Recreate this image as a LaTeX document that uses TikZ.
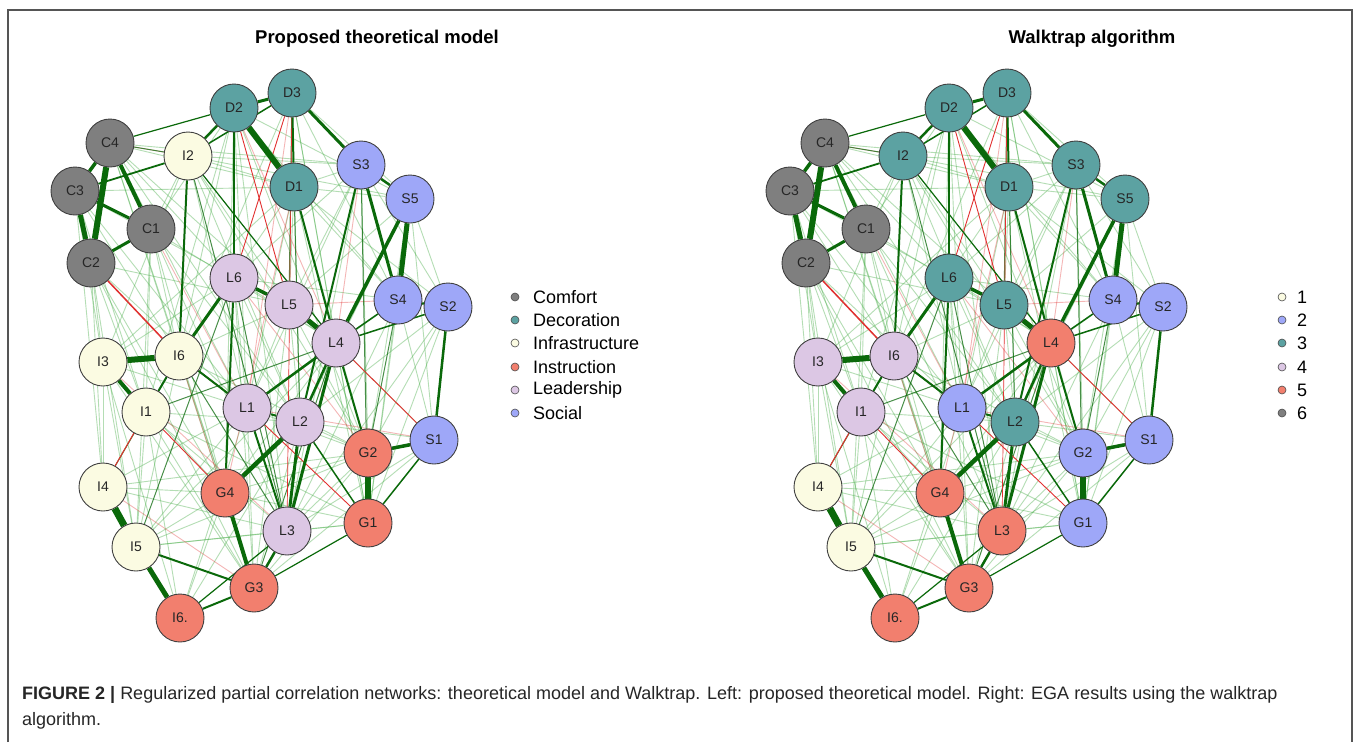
\documentclass[tikz,border=0pt]{standalone}
\usepackage{fontspec}
\setmainfont{Liberation Sans}
\definecolor{cgray}{HTML}{7F7F7F}
\definecolor{cteal}{HTML}{5CA2A2}
\definecolor{cyel}{HTML}{FBFBE2}
\definecolor{csal}{HTML}{F27F6E}
\definecolor{cpur}{HTML}{DCC7E4}
\definecolor{cblu}{HTML}{9EA7F8}
\definecolor{dkgreen}{HTML}{0A690A}
\definecolor{ltgreen}{HTML}{4DB04D}
\definecolor{edred}{HTML}{E23030}
\definecolor{framec}{HTML}{555555}
\pgfdeclarelayer{bg}
\pgfsetlayers{bg,main}
\tikzset{
  nd/.style={circle, draw=black!75, line width=0.9pt, minimum size=48pt, inner sep=0pt,
    text=black!85, font=\fontsize{14}{14}\selectfont},
  se/.style={draw=dkgreen},
  me/.style={draw=dkgreen, draw opacity=0.75, line width=1pt},
  fe/.style={draw=ltgreen, draw opacity=0.42, line width=0.9pt},
  re/.style={draw=edred},
  pe/.style={draw=edred, draw opacity=0.35, line width=0.9pt},
  legdot/.style={circle, draw=black!70, line width=0.6pt, minimum size=8pt, inner sep=0pt},
  legtxt/.style={anchor=west, inner sep=0pt, font=\fontsize{18}{18}\selectfont},
  ttl/.style={font=\bfseries\fontsize{18.5}{18.5}\selectfont},
}
\begin{document}
\begin{tikzpicture}[x=1pt,y=-1pt]
\useasboundingbox (0,0) rectangle (1357,742);
\begin{pgfonlayer}{bg}
\fill[white] (0,0) rectangle (1357,742);
\end{pgfonlayer}
\draw[framec, line width=1.2pt] (8,742) -- (8,10) -- (1352,10) -- (1352,742);

% titles
\node[ttl] (t1) at (377,39) {Proposed theoretical model};
\node[ttl] (t2) at (1092,39) {Walktrap algorithm};

% nodes
\foreach \n/\l/\x/\y/\ca/\cb in {
  C1/C1/151/229/cgray/cgray, C2/C2/91/263/cgray/cgray, C3/C3/75/191/cgray/cgray,
  C4/C4/110/143/cgray/cgray, D1/D1/294/187/cteal/cteal, D2/D2/234/108/cteal/cteal,
  D3/D3/292/93/cteal/cteal, I1/I1/146/412/cyel/cpur, I2/I2/188/156/cyel/cteal,
  I3/I3/103/362/cyel/cpur, I4/I4/103/487/cyel/cyel, I5/I5/136/547/cyel/cyel,
  I6/I6/179/356/cyel/cpur, I7/I6./180/618/csal/csal, L1/L1/247/408/cpur/cblu,
  L2/L2/300/422/cpur/cteal, L3/L3/287/531/cpur/csal, L4/L4/336/343/cpur/csal,
  L5/L5/289/305/cpur/cteal, L6/L6/234/278/cpur/cteal, G1/G1/368/523/csal/cblu,
  G2/G2/368/453/csal/cblu, G3/G3/254/588/csal/csal, G4/G4/225/493/csal/csal,
  S1/S1/434/440/cblu/cblu, S2/S2/448/307/cblu/cblu, S3/S3/361/165/cblu/cteal,
  S4/S4/398/300/cblu/cblu, S5/S5/410/199/cblu/cteal}
{
  \node[nd, fill=\ca] (a\n) at (\x,\y) {\l};
  \node[nd, fill=\cb] (b\n) at (\x+715,\y) {\l};
}

\begin{pgfonlayer}{bg}
% faint green edges
\foreach \u/\v in {
  C4/L6, C4/L5, C4/I6, C4/D1, C3/I6, C3/I1, C3/I4, C2/I3, C2/I4, C2/I1, C2/L1, C2/L5,
  C1/I2, C1/D2, C1/I6, C1/L4, C1/I5, C1/G4, I2/L5, I2/L1, I2/S3, I2/D1, D2/L1, D2/S4,
  D2/G4, D3/L4, D3/S5, D3/I6, D1/S3, D1/S5, D1/S4, D1/L5, D1/G2, D1/S2, S3/L5, S3/L6,
  S3/G2, S5/S2, S5/G1, S5/L5, S4/S1, S4/G1, S2/G2, S2/L2, S1/L2, S1/L3, I3/I4, I3/I5,
  I3/L1, I3/G4, I6/L5, I6/G3, I6/I5, I1/I4, I1/I5, I1/L2, I1/L3, I4/I7, I4/G4,
  I4/L1, I5/L3, I5/L1, I5/G4, I7/G4, I7/I1, I7/I3, L6/L4, L6/L2, L6/L1, L5/L1, L5/L2,
  L5/G2, L4/G1, L4/G4, L2/G2, L3/G1, L3/G2, G4/G2, G3/G2, L1/G3, C4/L1, C3/L6, C2/I6,
  D2/I1, D3/L2, D1/L1, D1/I6, S3/L1, S5/L2, S5/S1, S2/G1, S4/L3, S1/L4, I2/S5, D2/S5,
  C3/D1, C4/S3, I3/L6, I6/G2, I1/G3, L6/S4, I5/G2, I7/L1, I4/G2, C1/L3, C2/G4, D2/L3,
  C4/L2, C4/G4, C3/L1, C3/I3, C2/I5, C2/G3, C1/L2, C1/I1, I2/L2, I2/G2, I2/I3, D2/I6,
  D2/G2, D3/G1, D3/S4, D1/G1, D1/I3, S3/S2, S3/L3, S5/G2, S4/L1, S2/L3, S1/G3, I3/G3,
  I6/G4, I1/G1, I4/L3, I5/G1, I7/L2, L6/G3, L5/G3, L4/I5, L2/G3, L1/G2, G4/G1}
{
  \draw[fe] (a\u) -- (a\v);
  \draw[fe] (b\u) -- (b\v);
}
% faint red edges
\foreach \u/\v in {C4/I2, D2/L4, D3/L1, I2/I6, C1/L1, L5/S4, I4/G3, D1/G4, I6/G3, L6/G2, S3/L4, I3/L3, S1/L1}
{
  \draw[pe] (a\u) -- (a\v);
  \draw[pe] (b\u) -- (b\v);
}
% medium green edges
\foreach \u/\v in {I1/L4, I6/L3, I5/L6, I4/I6, G3/L4, C4/I2, D3/L5, D1/L2, S3/G1, S4/G2, I2/L3, L6/L3}
{
  \draw[me] (a\u) -- (a\v);
  \draw[me] (b\u) -- (b\v);
}
% red edges
\foreach \u/\v/\w in {C2/I6/1.5, I6/L1/1.2, I4/I1/1, L1/G1/0.9, L4/S1/0.9, D3/L6/0.9,
  D2/L5/0.9, I1/G4/0.9, D3/L3/0.7}
{
  \draw[re, line width=\w*1pt] (a\u) -- (a\v);
  \draw[re, line width=\w*1pt] (b\u) -- (b\v);
}
% strong green edges
\foreach \u/\v/\w in {
  C4/C2/6, C3/C2/5, C4/C3/3.5, C4/C1/4, C3/C1/3, C1/C2/3, C3/I2/1.8, C4/D2/1.2,
  I2/D2/2.5, D2/D3/3, I2/D3/1.5, D2/D1/6, D3/D1/2, D3/S3/3, S3/S5/2.5, S3/S4/3,
  S5/S4/5, S5/L4/3.5, S3/L2/2, D1/L4/2, S4/L4/1.5, S2/L4/1.5, S4/S2/2.5, S2/S1/2.5,
  S1/G2/3.5, G2/G1/6, S1/G1/1.5, G1/G3/1.2, G2/L4/2, L1/L4/2.5, L1/L2/2, L4/L2/2.5,
  L5/L4/5, L6/L5/3.5, I6/L6/3, L6/G4/2, I2/I6/2, I6/L1/2, I3/I6/6, I3/I1/4, I6/I1/2,
  L2/G4/4.5, G4/G3/4, L3/G3/2.5, L3/L2/3, L3/L4/3, L1/L3/2, I4/I5/7, I5/I7/5,
  I5/G3/2, I7/G3/2, I7/L3/1.2, L2/G1/1.5, I2/L4/1.2, D2/L6/1.2}
{
  \draw[se, line width=\w*1pt] (a\u) -- (a\v);
  \draw[se, line width=\w*1pt] (b\u) -- (b\v);
}
\end{pgfonlayer}

% legends
\foreach \i/\c/\t/\y in {1/cgray/Comfort/297, 2/cteal/Decoration/320, 3/cyel/Infrastructure/343,
  4/csal/Instruction/367, 5/cpur/Leadership/390, 6/cblu/Social/413}
{
  \node[legdot, fill=\c] (ld\i) at (515,\y) {};
  \node[legtxt] (lt\i) at (533,\y) {\t};
}
\foreach \i/\c/\y in {1/cyel/297, 2/cblu/320, 3/cteal/343, 4/cpur/367, 5/csal/390, 6/cgray/413}
{
  \node[legdot, fill=\c] (rd\i) at (1282,\y) {};
  \node[legtxt] (rt\i) at (1297,\y) {\i};
}

% caption
\node[anchor=north west, inner sep=0pt, align=left, font=\fontsize{18}{26}\selectfont, text=black!85] (cap) at (22,686)
  {\textbf{FIGURE 2 |} Regularized partial correlation networks: theoretical model and Walktrap. Left: proposed theoretical model. Right: EGA results using the walktrap\\algorithm.};
\end{tikzpicture}
\end{document}
